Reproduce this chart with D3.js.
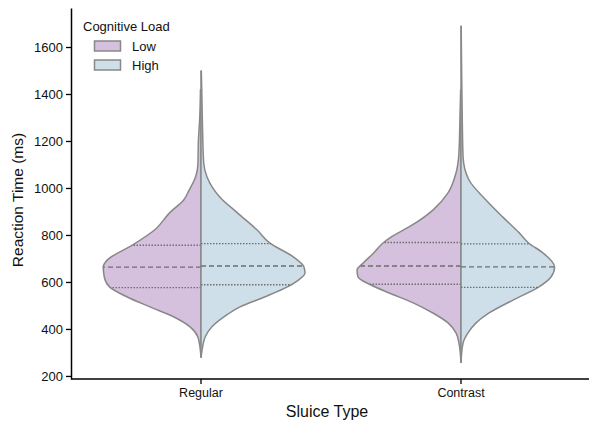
<!DOCTYPE html>
<html><head><meta charset="utf-8">
<script src="https://cdn.jsdelivr.net/npm/d3@7"></script>
<style>body{margin:0;background:#fff}svg{display:block;font-family:Arial,"Liberation Sans",sans-serif}</style>
</head><body><svg id="c" width="589" height="421"></svg>
<script>
const categories = ["Regular", "Contrast"];
const loads = ["Low", "High"];
const yTicks = [200, 400, 600, 800, 1000, 1200, 1400, 1600];
// density profiles: [reaction time ms, relative density]
const regularLow = [[1420,0.005],[1300,0.012],[1200,0.025],[1100,0.03],[1050,0.05],[990,0.115],[950,0.165],[895,0.3],[820,0.45],[757,0.66],[694,0.9],[664,0.94],[621,0.93],[579,0.88],[536,0.71],[494,0.49],[451,0.26],[409,0.105],[366,0.03],[323,0.01],[281,0]];
const regularHigh = [[1500,0.003],[1400,0.008],[1250,0.015],[1106,0.026],[1047,0.058],[962,0.18],[894,0.35],[821,0.54],[766,0.66],[706,0.89],[664,0.99],[638,1.0],[609,0.94],[579,0.83],[536,0.61],[494,0.375],[451,0.22],[409,0.105],[366,0.04],[323,0.015],[277,0]];
const contrastLow = [[1420,0.003],[1300,0.01],[1149,0.02],[1064,0.048],[979,0.125],[906,0.27],[834,0.5],[792,0.67],[766,0.75],[723,0.84],[681,0.94],[651,1.0],[621,0.99],[587,0.865],[553,0.69],[511,0.46],[468,0.27],[426,0.125],[383,0.048],[340,0.02],[255,0]];
const contrastHigh = [[1690,0.002],[1500,0.006],[1300,0.012],[1132,0.02],[1034,0.077],[949,0.24],[877,0.4],[809,0.56],[766,0.65],[723,0.79],[664,0.9],[621,0.865],[579,0.75],[523,0.5],[468,0.27],[426,0.145],[383,0.067],[340,0.02],[260,0]];
// quartiles [q1, median, q3]
const regularLowQ = [576, 663, 756];
const regularHighQ = [588, 668, 763];
const contrastLowQ = [590, 668, 768];
const contrastHighQ = [577, 664, 762];

const colors = {Low: "#d5c0dd", High: "#cfdfea"};
const outline = "#888888";

const violins = [
  {cat:"Regular", load:"Low", dens:regularLow, q:regularLowQ},
  {cat:"Regular", load:"High", dens:regularHigh, q:regularHighQ},
  {cat:"Contrast", load:"Low", dens:contrastLow, q:contrastLowQ},
  {cat:"Contrast", load:"High", dens:contrastHigh, q:contrastHighQ}
];

const svg = d3.select("#c");
const x = d3.scaleBand().domain(categories).range([71, 591]).padding(0);
const y = d3.scaleLinear().domain([187, 1766]).range([379, 8]);
const w = d3.scaleLinear().domain([0, 1]).range([0, 104]);

function widthAt(dens, v) {
  const s = dens.slice().sort((a,b)=>a[0]-b[0]);
  if (v <= s[0][0] || v >= s[s.length-1][0]) return 0;
  for (let i = 0; i < s.length-1; i++) {
    if (v >= s[i][0] && v <= s[i+1][0]) {
      const t = (v - s[i][0])/(s[i+1][0]-s[i][0]);
      return s[i][1] + t*(s[i+1][1]-s[i][1]);
    }
  }
  return 0;
}

violins.forEach(vd => {
  const cx = x(vd.cat) + x.bandwidth()/2;
  const sign = vd.load === "Low" ? -1 : 1;
  const pts = vd.dens.slice().sort((a,b)=>b[0]-a[0]);
  const area = d3.area()
    .y(d => y(d[0]))
    .x0(cx)
    .x1(d => cx + sign*w(d[1]))
    .curve(d3.curveMonotoneY);
  svg.append("path").attr("d", area(pts))
    .attr("fill", colors[vd.load]).attr("stroke", "none");
  const line = d3.line().y(d => y(d[0])).x(d => cx + sign*w(d[1])).curve(d3.curveMonotoneY);
  svg.append("path").attr("d", line(pts)).attr("fill","none")
    .attr("stroke", outline).attr("stroke-width", 1.5);
  svg.append("line").attr("x1", cx).attr("x2", cx)
    .attr("y1", y(pts[0][0])).attr("y2", y(pts[pts.length-1][0]))
    .attr("stroke", outline).attr("stroke-width", 1.5);
  vd.q.forEach((qv, i) => {
    const ww = w(widthAt(vd.dens, qv));
    svg.append("line").attr("x1", cx).attr("x2", cx + sign*ww)
      .attr("y1", y(qv)).attr("y2", y(qv))
      .attr("stroke", "#6f6f6f").attr("stroke-width", 1.4)
      .attr("stroke-dasharray", i === 1 ? "5,3" : "1.5,1.5");
  });
});

// axes
const yAxis = svg.append("g").attr("transform", "translate(71,0)")
  .call(d3.axisLeft(y).tickValues(yTicks).tickFormat(d3.format("d")).tickSize(5).tickPadding(3).tickSizeOuter(0));
const xAxis = svg.append("g").attr("transform", "translate(0,379)")
  .call(d3.axisBottom(x).tickSize(5).tickPadding(4).tickSizeOuter(0));
[yAxis, xAxis].forEach(g => {
  g.selectAll("path.domain").attr("stroke", "#000").attr("stroke-width", 1.5);
  g.selectAll(".tick line").attr("stroke", "#000").attr("stroke-width", 1.3);
  g.selectAll(".tick text").attr("fill", "#111").style("font-size", "13px")
    .style("font-family", "Arial, 'Liberation Sans', sans-serif");
});
xAxis.select("path.domain").attr("d", "M71,0H589");
xAxis.selectAll(".tick text").style("font-size", "12.5px");

svg.append("text").attr("x", 327).attr("y", 417).attr("text-anchor", "middle")
  .style("font-size", "16px").attr("fill", "#111").text("Sluice Type");
svg.append("text").attr("transform", "translate(23,200) rotate(-90)")
  .attr("text-anchor", "middle").style("font-size", "15.5px").attr("fill", "#111")
  .text("Reaction Time (ms)");

// legend
const lg = svg.append("g");
lg.append("text").attr("x", 83).attr("y", 31).style("font-size", "13px").attr("fill","#111").text("Cognitive Load");
loads.forEach((l, i) => {
  lg.append("rect").attr("x", 94.5).attr("y", 41 + i*19).attr("width", 26).attr("height", 10)
    .attr("fill", colors[l]).attr("stroke", outline).attr("stroke-width", 1.5);
  lg.append("text").attr("x", 132).attr("y", 50.5 + i*19).style("font-size", "13px").attr("fill","#111").text(l);
});
</script></body></html>
